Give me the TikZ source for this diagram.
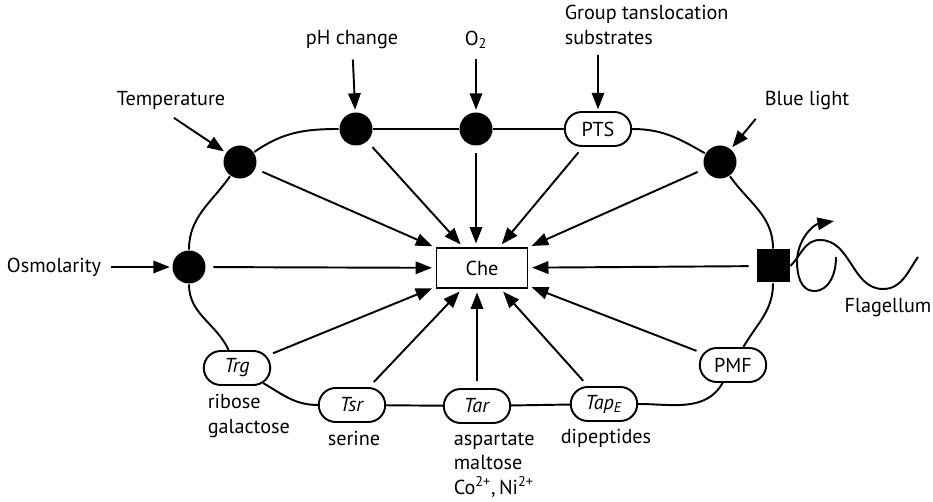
\documentclass[tikz,border=0pt]{standalone}
\usepackage{fontspec}
\setmainfont{PT Sans}
\usetikzlibrary{arrows.meta}
\usetikzlibrary{shapes.misc}

\begin{document}
\begin{tikzpicture}[x=0.02cm, y=-0.02cm, line width=1.1pt,
        font=\fontsize{11.5}{14}\selectfont,
        sensor/.style={circle, fill, inner sep=0pt, minimum size=0.66cm},
        receptor/.style={rounded rectangle, draw, fill=white, inner sep=1pt,
            minimum width=1.4cm, minimum height=0.68cm},
        signal/.style={-{Triangle[length=3.3mm, width=2.5mm]},
            shorten <=2pt, shorten >=1pt},
        toche/.style={-{Triangle[length=3.3mm, width=2.5mm]},
            shorten <=4pt, shorten >=2pt}]
                    \useasboundingbox (0,0) rectangle (933,502);
                    % sensors and receptors on the membrane
                    \node[sensor] (temp) at (240,162) {};
                    \node[sensor] (ph) at (356,129) {};
                    \node[sensor] (o2) at (476,129) {};
                    \node[receptor] (pts) at (598,129) {PTS};
                    \node[sensor] (blue) at (720,162) {};
                    \node[sensor] (osmo) at (189,267) {};
                    \node[rectangle, fill, inner sep=0pt, minimum size=0.66cm] (motor) at (773,266) {};
                    \node[receptor] (trg) at (237,368) {\textit{Trg}};
                    \node[receptor] (tsr) at (352,405) {\textit{Tsr}};
                    \node[receptor] (tar) at (477,406) {\textit{Tar}};
                    \node[receptor] (tape) at (604,404) {\textit{Tap}\textsubscript{\textit{E}}};
                    \node[receptor] (pmf) at (733,365) {PMF};
                    \node[draw, minimum width=1.82cm, minimum height=0.8cm] (che) at (482,268) {Che};
                    % membrane
                    \draw (temp) to[out=35,in=180] (ph);
                    \draw (ph) -- (o2) -- (pts);
                    \draw (pts) to[out=0,in=150] (blue);
                    \draw (blue) to[out=-55,in=90] (motor);
                    \draw (motor) to[out=-90,in=60] (pmf);
                    \draw (pmf) to[out=-120,in=0] (tape);
                    \draw (tape) -- (tar) -- (tsr);
                    \draw (tsr) to[out=180,in=-30] (trg);
                    \draw (trg) to[out=115,in=-90] (osmo);
                    \draw (osmo) to[out=90,in=-125] (temp);
                    % stimuli
                    \node (templbl) at (171,100) {Temperature};
                    \node (phlbl) at (352,40) {pH change};
                    \node (o2lbl) at (476,40) {O\textsubscript{2}};
                    \node[align=left, anchor=west] (grouplbl) at (558,25) {Group tanslocation\\substrates};
                    \node (bluelbl) at (807,100) {Blue light};
                    \node (osmolbl) at (54,267) {Osmolarity};
                    \draw[signal] (templbl.south) -- (temp);
                    \draw[signal] (phlbl) -- (ph);
                    \draw[signal] (o2lbl) -- (o2);
                    \draw[signal] (grouplbl.south -| pts) -- (pts);
                    \draw[signal] (bluelbl.south west) -- (blue);
                    \draw[signal] (osmolbl) -- (osmo);
                    % signals to Che
                    \foreach \s in {temp,ph,pts,blue,osmo,motor,trg,tsr,tape,pmf}
                        \draw[toche] (\s) -- (che);
                    \draw[toche] (o2) -- (o2 |- che.north);
                    \draw[toche] (tar) -- (tar |- che.south);
                    % ligands
                    \node[align=left, anchor=west] at (201,416) {ribose\\galactose};
                    \node (serlbl) at (354,438) {serine};
                    \node[align=left, anchor=west] at (447,465) {aspartate\\maltose\\Co\textsuperscript{2+},\,Ni\textsuperscript{2+}};
                    \node at (606,438) {dipeptides};
                    % flagellum
                    \draw (motor.east) to[out=45,in=180] (820,240) to[out=0,in=180] (883,289) to[out=0,in=-125] (918,257);
                    \draw[-{Triangle[length=3.3mm, width=2.5mm]}] (836,257) to[out=-90,in=0] (814,291) to[out=180,in=-90] (797,262) to[out=90,in=190] (834,221);
                    \node at (888,308) {Flagellum};
                \end{tikzpicture}
\end{document}
